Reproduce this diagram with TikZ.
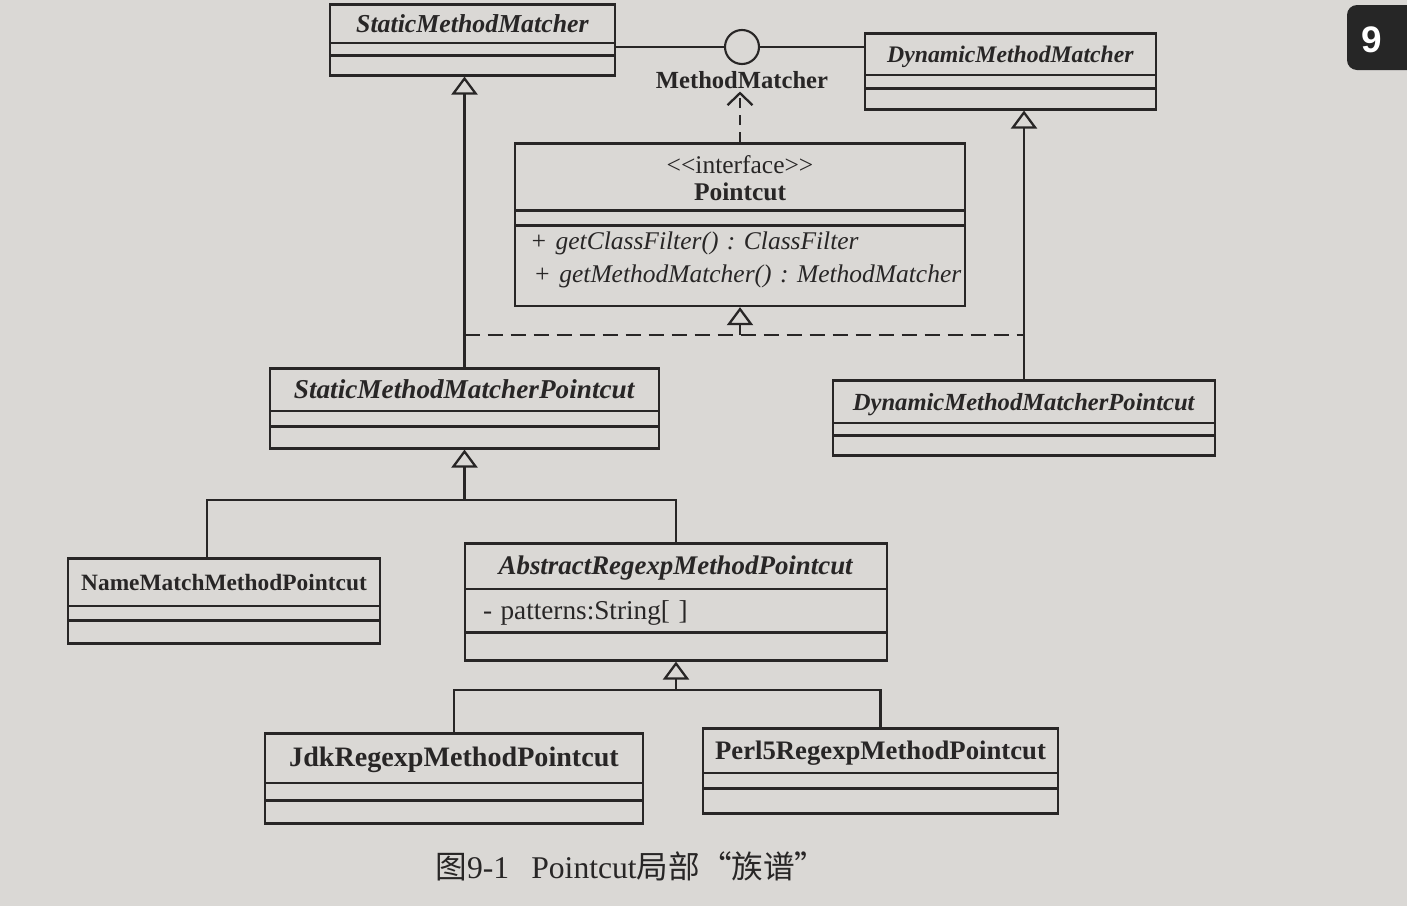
\documentclass[tikz,border=0pt]{standalone}
\usepackage{fontspec}
\setmainfont{Liberation Serif}
\setsansfont{Liberation Sans}
\newfontfamily\cjk{Noto Sans CJK SC}
\usetikzlibrary{arrows.meta}
\usetikzlibrary{shapes.multipart}
\usetikzlibrary{calc}
\setlength{\parindent}{0pt}
\frenchspacing
\definecolor{pagebg}{RGB}{218,216,213}
\definecolor{ink}{RGB}{40,38,38}
\newcommand{\umlfont}{\fontsize{14.5}{15.5}\selectfont}
\newcommand{\fs}[1]{\fontsize{#1}{15.5}\selectfont}
\newcommand{\nrow}[2]{\rule[-\dimexpr(#1-0.34cm)/2\relax]{0pt}{#1}#2}
\newcommand{\erow}[1]{\rule{0pt}{#1}}
\tikzset{
  umlclass/.style={draw, line width=1.5pt, rectangle split, rectangle split parts=3,
    inner xsep=0pt, inner ysep=-0.03cm, text width=#1, align=center, font=\umlfont, anchor=north},
  realize/.style={dash pattern=on 0.3cm off 0.16cm},
  iface/.style={dash pattern=on 0.2cm off 0.14cm, -{Straight Barb[length=2.4mm,width=5mm]}}
}
\begin{document}
\begin{tikzpicture}[>={Triangle[open,length=3.6mm,width=5.2mm]}, color=ink, line width=1.3pt]
  \fill[pagebg] (0,0) rectangle (28.14,-18.12);
  \useasboundingbox (0,0) rectangle (28.14,-18.12);
  % page tab
  \fill[black!85, rounded corners=0.2cm] (26.94,-0.1) rectangle (28.8,-1.4);
  \node[text=white, font=\sffamily\bfseries\fontsize{21}{21}\selectfont] (tab) at (27.44,-0.8) {9};

  \node[umlclass=5.7cm] (smm) at (9.45,-0.06) {\nrow{0.78cm}{\fs{14.7}\textbf{\textit{StaticMethodMatcher}}}
    \nodepart{two}\erow{0.26cm}\nodepart{three}\erow{0.4cm}};
  \node[umlclass=5.82cm] (dmm) at (20.21,-0.64) {\nrow{0.84cm}{\fs{13.5}\textbf{\textit{DynamicMethodMatcher}}}
    \nodepart{two}\erow{0.28cm}\nodepart{three}\erow{0.42cm}};
  \node[circle, draw, minimum size=0.68cm, inner sep=0pt, line width=1.2pt] (mm) at (14.84,-0.94) {};
  \node[font=\fs{14}\bfseries, inner sep=1pt] (mmname) at (14.84,-1.6) {MethodMatcher};

  \node[umlclass=9cm] (pc) at (14.8,-2.84) {\rule{0pt}{0.6cm}\textless\kern0pt\textless interface\textgreater\kern0pt\textgreater\\ \textbf{Pointcut}\rule[-0.21cm]{0pt}{0pt}
    \nodepart{two}\erow{0.3cm}
    \nodepart{three}\raggedright\hspace*{0.3cm}\rule{0pt}{0.48cm}\textit{+ getClassFilter() : ClassFilter}\\[0.113cm]%
    \hspace*{0.3cm}\textit{+ getMethodMatcher() : MethodMatcher}\rule[-0.48cm]{0pt}{0pt}};

  \node[umlclass=7.78cm] (smmp) at (9.29,-7.34) {\nrow{0.86cm}{\fs{15.5}\textbf{\textit{StaticMethodMatcherPointcut}}}
    \nodepart{two}\erow{0.32cm}\nodepart{three}\erow{0.44cm}};
  \node[umlclass=7.64cm] (dmmp) at (20.48,-7.58) {\nrow{0.86cm}{\fs{14}\textbf{\textit{DynamicMethodMatcherPointcut}}}
    \nodepart{two}\erow{0.26cm}\nodepart{three}\erow{0.4cm}};

  \node[umlclass=6.24cm] (nmmp) at (4.48,-11.14) {\nrow{0.96cm}{\fs{13.3}\textbf{NameMatchMethodPointcut}}
    \nodepart{two}\erow{0.3cm}\nodepart{three}\erow{0.46cm}};
  \node[umlclass=8.44cm] (armp) at (13.52,-10.84) {\nrow{0.92cm}{\fs{15.3}\textbf{\textit{AbstractRegexpMethodPointcut}}}
    \nodepart{two}\raggedright\hspace*{0.36cm}\nrow{0.88cm}{\fs{15.5}- patterns:String[ ]}\par
    \nodepart{three}\erow{0.56cm}};

  \node[umlclass=7.56cm] (jdk) at (9.08,-14.64) {\nrow{1.0cm}{\fs{16}\textbf{JdkRegexpMethodPointcut}}
    \nodepart{two}\erow{0.36cm}\nodepart{three}\erow{0.46cm}};
  \node[umlclass=7.1cm] (perl) at (17.61,-14.54) {\nrow{0.9cm}{\fs{15.2}\textbf{Perl5RegexpMethodPointcut}}
    \nodepart{two}\erow{0.32cm}\nodepart{three}\erow{0.5cm}};

  % interface MethodMatcher
  \draw (smm.east |- mm) -- (mm.west);
  \draw (mm.east) -- (dmm.west |- mm);
  \draw[iface] (pc.north) -- (pc.north |- mmname.south);

  % generalization
  \draw[->] (smmp.north) -- (smmp.north |- smm.south);
  \draw[->] (dmmp.north) -- (dmmp.north |- dmm.south);

  % realization of Pointcut
  \coordinate (rj) at (pc.south |- 0,-6.7);
  \draw[realize] (smmp.north |- rj) -- (dmmp.north |- rj);
  \draw[realize,->] (rj) -- (pc.south);

  \coordinate (t1) at (smmp.south |- 0,-10.0);
  \coordinate (nmtop) at ($(nmmp.north west)!0.445!(nmmp.north east)$);
  \draw (nmtop) |- (t1) -| (armp.north);
  \draw[->] (t1) -- (smmp.south);

  \coordinate (t2) at (armp.south |- 0,-13.8);
  \draw (jdk.north) |- (t2) -| (perl.north);
  \draw[->] (t2) -- (armp.south);

  \node[font=\fontsize{18}{20}\selectfont] (cap) at (12.62,-17.32) {{\cjk 图}9-1\hspace{0.7em}Pointcut{\cjk 局部“族谱”}};
\end{tikzpicture}
\end{document}
